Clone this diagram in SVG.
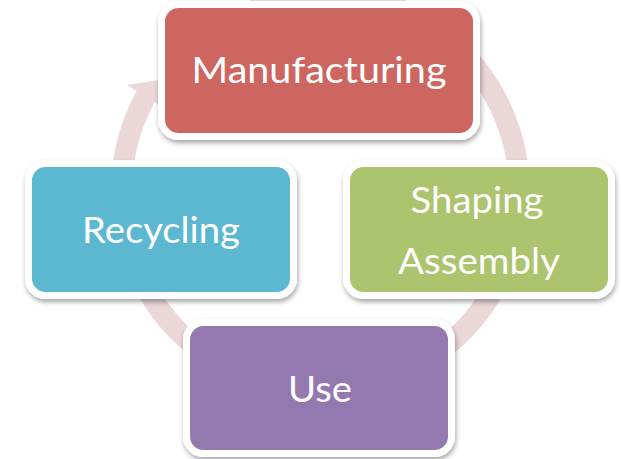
<svg xmlns="http://www.w3.org/2000/svg" width="621" height="459" viewBox="0 0 621 459">
  <defs>
    <filter id="shadow" x="-10%" y="-10%" width="120%" height="130%">
      <feDropShadow dx="1" dy="3" stdDeviation="2.5" flood-color="#000" flood-opacity="0.35"/>
    </filter>
    <style>
      .box { stroke: #ffffff; stroke-width: 7; filter: url(#shadow); }
      .label { font-family: Lato, "Open Sans", sans-serif; font-size: 37px; fill: #ffffff; text-anchor: middle; }
      .ring { fill: none; stroke: #ebd6d8; stroke-width: 21; }
      .head { fill: #ebd6d8; }
    </style>
  </defs>
  <rect width="621" height="459" fill="#ffffff"/>

  <!-- cycle arrow behind the boxes -->
  <g id="connectors">
    <path class="ring" d="M 252 5 A 199 199 0 1 1 150 89"/>
    <path class="head" d="M 127 85 L 172 78 L 164 108 Z"/>
  </g>

  <g id="manufacturing">
    <rect class="box" x="161.5" y="4.5" width="315" height="132" rx="17" fill="#cd6661"/>
    <text class="label" x="319" y="83" textLength="255" lengthAdjust="spacingAndGlyphs">Manufacturing</text>
  </g>

  <g id="shaping-assembly">
    <rect class="box" x="346.5" y="163.5" width="265" height="132" rx="17" fill="#abc46d"/>
    <text class="label" x="477" y="213" textLength="133" lengthAdjust="spacingAndGlyphs">Shaping</text>
    <text class="label" x="479" y="274" textLength="162" lengthAdjust="spacingAndGlyphs">Assembly</text>
  </g>

  <g id="use">
    <rect class="box" x="186.5" y="322.5" width="265" height="131" rx="17" fill="#9479b0"/>
    <text class="label" x="320" y="402" textLength="64" lengthAdjust="spacingAndGlyphs">Use</text>
  </g>

  <g id="recycling">
    <rect class="box" x="28.5" y="163.5" width="265" height="132" rx="17" fill="#5bb8d1"/>
    <text class="label" x="161" y="243" textLength="158" lengthAdjust="spacingAndGlyphs">Recycling</text>
  </g>
</svg>
